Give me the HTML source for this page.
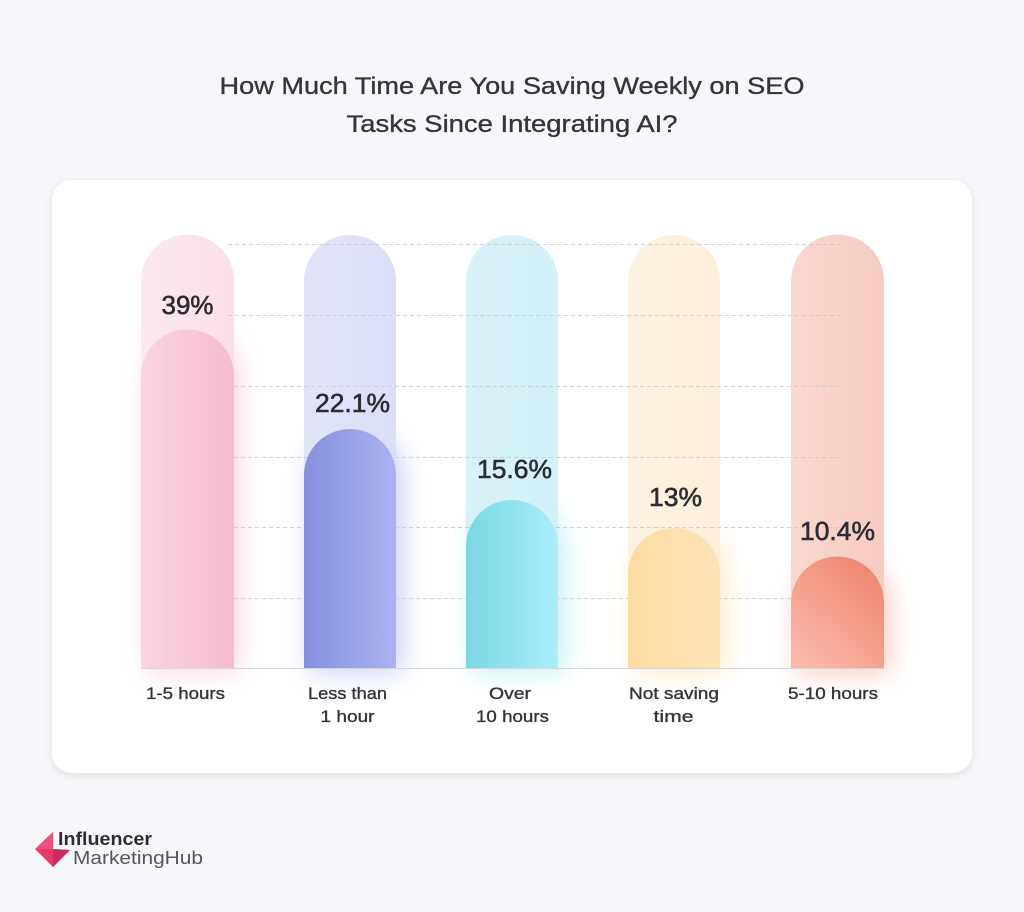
<!DOCTYPE html>
<html>
<head>
<meta charset="utf-8">
<style>
  html,body{margin:0;padding:0;background:#f6f7fa;}
  svg{display:block;}
  text{font-family:"Liberation Sans", Arial, sans-serif;}
</style>
</head>
<body>
<svg width="1024" height="912" viewBox="0 0 1024 912" xmlns="http://www.w3.org/2000/svg">
  <defs>
    <filter id="cardShadow" x="-10%" y="-10%" width="120%" height="120%">
      <feGaussianBlur in="SourceAlpha" stdDeviation="4"/>
      <feOffset dx="0" dy="2"/>
      <feComponentTransfer><feFuncA type="linear" slope="0.12"/></feComponentTransfer>
      <feMerge><feMergeNode/><feMergeNode in="SourceGraphic"/></feMerge>
    </filter>
    <filter id="glow" x="-50%" y="-50%" width="200%" height="200%">
      <feGaussianBlur stdDeviation="13"/>
    </filter>
    <linearGradient id="f1" x1="0" y1="0" x2="1" y2="0">
      <stop offset="0" stop-color="#fbd3df"/><stop offset="1" stop-color="#f5bccf"/>
    </linearGradient>
    <linearGradient id="f2" x1="0" y1="0" x2="1" y2="0">
      <stop offset="0" stop-color="#8691de"/><stop offset="1" stop-color="#abb2f2"/>
    </linearGradient>
    <linearGradient id="f3" x1="0" y1="0" x2="1" y2="0">
      <stop offset="0" stop-color="#7bd7e5"/><stop offset="1" stop-color="#a9eef8"/>
    </linearGradient>
    <linearGradient id="f4" x1="0" y1="0" x2="1" y2="0">
      <stop offset="0" stop-color="#fddca3"/><stop offset="1" stop-color="#fde4b5"/>
    </linearGradient>
    <linearGradient id="f5" x1="0.9" y1="0.1" x2="0.2" y2="1">
      <stop offset="0" stop-color="#ee8670"/><stop offset="1" stop-color="#fbb9a9"/>
    </linearGradient>
    <linearGradient id="t1" x1="0" y1="0" x2="1" y2="0">
      <stop offset="0" stop-color="#fde9f0"/><stop offset="1" stop-color="#fbdfe8"/>
    </linearGradient>
    <linearGradient id="t2" x1="0" y1="0" x2="1" y2="0">
      <stop offset="0" stop-color="#e2e5f8"/><stop offset="1" stop-color="#dadef7"/>
    </linearGradient>
    <linearGradient id="t3" x1="0" y1="0" x2="1" y2="0">
      <stop offset="0" stop-color="#d8f2f7"/><stop offset="1" stop-color="#d2f1f8"/>
    </linearGradient>
    <linearGradient id="t4" x1="0" y1="0" x2="1" y2="0">
      <stop offset="0" stop-color="#fdf2e2"/><stop offset="1" stop-color="#fdf0da"/>
    </linearGradient>
    <linearGradient id="t5" x1="0" y1="0" x2="1" y2="0">
      <stop offset="0" stop-color="#f9d7cf"/><stop offset="1" stop-color="#f6cbc1"/>
    </linearGradient>
  </defs>

  <!-- Title -->
  <g fill="#35353d" stroke="#35353d" stroke-width="0.35">
    <text x="512" y="94" font-size="24" text-anchor="middle" textLength="585" lengthAdjust="spacingAndGlyphs">How Much Time Are You Saving Weekly on SEO</text>
    <text x="512" y="132" font-size="24" text-anchor="middle" textLength="331" lengthAdjust="spacingAndGlyphs">Tasks Since Integrating AI?</text>
  </g>

  <!-- Card -->
  <rect x="52" y="180" width="920" height="593" rx="20" ry="20" fill="#ffffff" filter="url(#cardShadow)"/>

  <!-- glows -->
  <g filter="url(#glow)" opacity="0.55">
    <path d="M148,672 V376 A46,46 0 0 1 240,376 V672 Z" fill="#f6b7cc"/>
    <path d="M310,672 V475 A46,46 0 0 1 402,475 V672 Z" fill="#9ea7ee"/>
    <path d="M472,672 V546 A46,46 0 0 1 564,546 V672 Z" fill="#90e3ef"/>
    <path d="M634,672 V574 A46,46 0 0 1 726,574 V672 Z" fill="#fdd99a"/>
    <path d="M797,672 V602 A46,46 0 0 1 889,602 V672 Z" fill="#f29a84"/>
  </g>

  <!-- tracks -->
  <path d="M141,668 V281 A46.5,46.5 0 0 1 234,281 V668 Z" fill="url(#t1)"/>
  <path d="M304,668 V281 A46,46 0 0 1 396,281 V668 Z" fill="url(#t2)"/>
  <path d="M466,668 V281 A46,46 0 0 1 558,281 V668 Z" fill="url(#t3)"/>
  <path d="M628,668 V281 A46,46 0 0 1 720,281 V668 Z" fill="url(#t4)"/>
  <path d="M791,668 V281 A46.5,46.5 0 0 1 884,281 V668 Z" fill="url(#t5)"/>

  <!-- grid lines -->
  <g stroke="#c4c4cc" stroke-width="1" stroke-dasharray="4 3" opacity="0.75">
    <line x1="228" y1="244.5" x2="842" y2="244.5"/>
    <line x1="228" y1="315.5" x2="842" y2="315.5"/>
    <line x1="234" y1="386.5" x2="842" y2="386.5"/>
    <line x1="234" y1="457.5" x2="842" y2="457.5"/>
    <line x1="234" y1="527.5" x2="842" y2="527.5"/>
    <line x1="234" y1="598.5" x2="842" y2="598.5"/>
  </g>

  <!-- fills -->
  <path d="M141,668 V376 A46.5,46.5 0 0 1 234,376 V668 Z" fill="url(#f1)"/>
  <path d="M304,668 V475 A46,46 0 0 1 396,475 V668 Z" fill="url(#f2)"/>
  <path d="M466,668 V546 A46,46 0 0 1 558,546 V668 Z" fill="url(#f3)"/>
  <path d="M628,668 V574 A46,46 0 0 1 720,574 V668 Z" fill="url(#f4)"/>
  <path d="M791,668 V603 A46.5,46.5 0 0 1 884,603 V668 Z" fill="url(#f5)"/>

  <!-- baseline -->
  <line x1="141" y1="668.5" x2="884" y2="668.5" stroke="#d6d6dc" stroke-width="1"/>

  <!-- value labels -->
  <g font-size="26" fill="#2c2c34" stroke="#2c2c34" stroke-width="0.6" text-anchor="middle">
    <text x="187.5" y="314" textLength="52" lengthAdjust="spacingAndGlyphs">39%</text>
    <text x="352.5" y="412" textLength="75" lengthAdjust="spacingAndGlyphs">22.1%</text>
    <text x="514.5" y="478" textLength="75" lengthAdjust="spacingAndGlyphs">15.6%</text>
    <text x="675.5" y="506" textLength="53" lengthAdjust="spacingAndGlyphs">13%</text>
    <text x="837.5" y="540" textLength="75" lengthAdjust="spacingAndGlyphs">10.4%</text>
  </g>

  <!-- category labels -->
  <g font-size="17" fill="#33333b" stroke="#33333b" stroke-width="0.35" text-anchor="middle">
    <text x="185.5" y="699" textLength="79" lengthAdjust="spacingAndGlyphs">1-5 hours</text>
    <text x="347.5" y="699" textLength="79" lengthAdjust="spacingAndGlyphs">Less than</text>
    <text x="347.5" y="722" textLength="54" lengthAdjust="spacingAndGlyphs">1 hour</text>
    <text x="510" y="699" textLength="42" lengthAdjust="spacingAndGlyphs">Over</text>
    <text x="512.5" y="722" textLength="73" lengthAdjust="spacingAndGlyphs">10 hours</text>
    <text x="674" y="699" textLength="90" lengthAdjust="spacingAndGlyphs">Not saving</text>
    <text x="673.5" y="722" textLength="40" lengthAdjust="spacingAndGlyphs">time</text>
    <text x="833" y="699" textLength="90" lengthAdjust="spacingAndGlyphs">5-10 hours</text>
  </g>

  <!-- logo -->
  <g>
    <polygon points="35,849 53,832 53,849 70,850 53,867" fill="#e8396f"/>
    <polygon points="53,849 70,850 53,867" fill="#c92c5e"/>
    <polygon points="35,849 53,832 53,849" fill="#f04f80"/>
    <text x="58" y="845" font-size="18" font-weight="bold" fill="#2e2e36" textLength="94" lengthAdjust="spacingAndGlyphs">Influencer</text>
    <text x="73" y="864" font-size="18" fill="#55555d" textLength="130" lengthAdjust="spacingAndGlyphs">MarketingHub</text>
  </g>
</svg>
</body>
</html>
